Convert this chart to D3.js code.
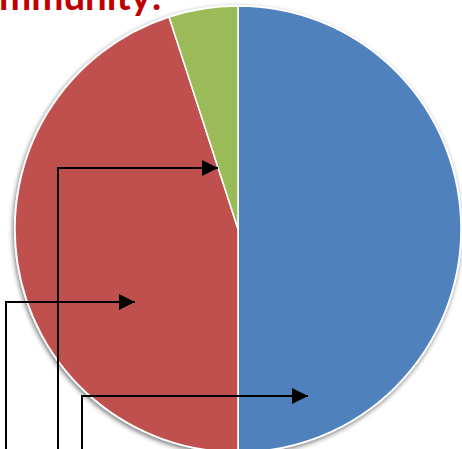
<!DOCTYPE html>
<html>
<head>
<meta charset="utf-8">
<script src="https://cdn.jsdelivr.net/npm/d3@7/dist/d3.min.js"></script>
<style>
  html, body { margin: 0; padding: 0; background: #fff; overflow: hidden; }
  svg { display: block; }
</style>
</head>
<body>
<svg id="chart" width="462" height="449"></svg>
<script>
// ---- data ----
const categories = ["Segment A", "Segment B", "Segment C"];
const values = [50, 45, 5];
const colors = ["#4F81BD", "#C0504D", "#9BBB59"];
const titleText = "Community!";

// ---- annotation arrows (elbow connectors), in pixels ----
const arrows = [
  { x0: 58, y0: 455, yElbow: 168, x1: 218 },
  { x0: 6,  y0: 455, yElbow: 302, x1: 135 },
  { x0: 82, y0: 455, yElbow: 396, x1: 308 }
];

const W = 462, H = 449;
const svg = d3.select("#chart");
const defs = svg.append("defs");

const shadow = defs.append("filter").attr("id", "shadow")
  .attr("x", "-10%").attr("y", "-10%").attr("width", "120%").attr("height", "120%");
shadow.append("feGaussianBlur").attr("in", "SourceAlpha").attr("stdDeviation", 2.5).attr("result", "b");
shadow.append("feOffset").attr("in", "b").attr("dx", -1).attr("dy", 2).attr("result", "o");
shadow.append("feComponentTransfer").attr("in", "o").attr("result", "s")
  .append("feFuncA").attr("type", "linear").attr("slope", 0.55);
const merge = shadow.append("feMerge");
merge.append("feMergeNode").attr("in", "s");
merge.append("feMergeNode").attr("in", "SourceGraphic");

defs.append("marker").attr("id", "head")
  .attr("viewBox", "0 0 10 10").attr("refX", 10).attr("refY", 5)
  .attr("markerUnits", "userSpaceOnUse")
  .attr("markerWidth", 16).attr("markerHeight", 16)
  .attr("orient", "auto")
  .append("path").attr("d", "M0,0 L10,5 L0,10 Z").attr("fill", "#000");

// ---- pie ----
const cx = 238, cy = 229, r = 223;
const pie = d3.pie().sort(null).value(d => d)(values);
const arc = d3.arc().innerRadius(0).outerRadius(r);

const g = svg.append("g").attr("transform", `translate(${cx},${cy})`);
g.append("circle").attr("r", r + 1).attr("fill", "#fff").attr("filter", "url(#shadow)");
g.selectAll("path.slice").data(pie).enter().append("path")
  .attr("class", "slice")
  .attr("d", arc)
  .attr("fill", (d, i) => colors[i])
  .attr("stroke", "#fff")
  .attr("stroke-width", 1.5)
  .attr("stroke-linejoin", "round");

// ---- title fragment (cropped at top) ----
const t = svg.append("text")
  .attr("y", 10)
  .attr("font-family", "Lato, 'Open Sans', sans-serif")
  .attr("font-weight", "bold")
  .attr("font-size", 40)
  .attr("fill", "#C00000")
  .text(titleText);
const node = t.node();
const total = node.getComputedTextLength();
const pre = node.getSubStringLength(0, 2);
const visibleW = total - pre;
const fs = 40 * 163 / visibleW;
t.attr("font-size", fs);
const pre2 = node.getSubStringLength(0, 2);
t.attr("x", -pre2 - 1);

// ---- arrows ----
svg.selectAll("path.arrow").data(arrows).enter().append("path")
  .attr("class", "arrow")
  .attr("d", d => d3.line()([[d.x0, d.y0], [d.x0, d.yElbow], [d.x1, d.yElbow]]))
  .attr("fill", "none")
  .attr("stroke", "#000")
  .attr("stroke-width", 2)
  .attr("marker-end", "url(#head)");
</script>
</body>
</html>
